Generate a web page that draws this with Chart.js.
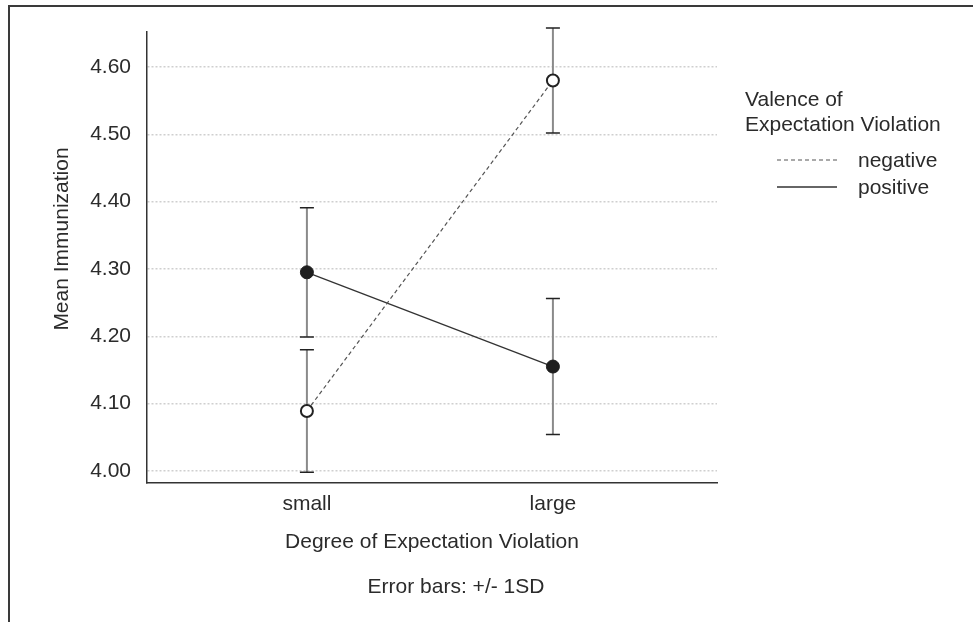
<!DOCTYPE html>
<html>
<head>
<meta charset="utf-8">
<script src="https://cdn.jsdelivr.net/npm/chart.js@4/dist/chart.umd.min.js"></script>
<style>
  html, body { margin: 0; padding: 0; background: #fff; }
  #wrap { position: relative; width: 973px; height: 622px; }
  #frame {
    position: absolute; left: 8px; top: 5px; right: 0; bottom: 0;
    border-top: 2px solid #3a3a3a; border-left: 2px solid #3a3a3a;
    pointer-events: none;
  }
</style>
</head>
<body>
<div id="wrap">
  <div id="frame"></div>
  <canvas id="interactionChart"></canvas>
</div>
<script>
const categories = ['small', 'large'];
const seriesLabels = ['negative', 'positive'];
const negativeMeans = [4.089, 4.580];
const negativeSD = [0.091, 0.078];
const positiveMeans = [4.295, 4.155];
const positiveSD = [0.096, 0.101];
const yTicks = [4.00, 4.10, 4.20, 4.30, 4.40, 4.50, 4.60];

const FONT = "'Liberation Sans', Arial, sans-serif";
const TEXT = '#2b2b2b';

function toPoints(means) {
    return means.map((m, i) => ({ x: i + 1, y: m }));
}

// error bars: grey stem, dark caps, drawn under the markers
const errorBars = {
    id: 'errorBars',
    beforeDatasetsDraw(chart) {
        const { ctx, scales: { x, y } } = chart;
        chart.data.datasets.forEach(ds => {
            ds.data.forEach((pt, i) => {
                const px = x.getPixelForValue(pt.x);
                const top = y.getPixelForValue(pt.y + ds.sd[i]);
                const bot = y.getPixelForValue(pt.y - ds.sd[i]);
                ctx.save();
                ctx.strokeStyle = '#8a8a8a';
                ctx.lineWidth = 2;
                ctx.beginPath();
                ctx.moveTo(px, top);
                ctx.lineTo(px, bot);
                ctx.stroke();
                ctx.strokeStyle = '#222';
                ctx.lineWidth = 1.5;
                ctx.beginPath();
                ctx.moveTo(px - 7, top); ctx.lineTo(px + 7, top);
                ctx.moveTo(px - 7, bot); ctx.lineTo(px + 7, bot);
                ctx.stroke();
                ctx.restore();
            });
        });
    }
};

// legend block on the right, y title (sits a bit above centre) and footnote
const sideNotes = {
    id: 'sideNotes',
    afterDraw(chart) {
        const ctx = chart.ctx;
        ctx.save();
        ctx.font = '21px ' + FONT;
        ctx.fillStyle = TEXT;
        ctx.textBaseline = 'middle';
        ctx.textAlign = 'left';
        ctx.fillText('Valence of', 745, 100);
        ctx.fillText('Expectation Violation', 745, 125);

        const rows = [161, 188];
        chart.data.datasets.forEach((ds, i) => {
            ctx.strokeStyle = ds.borderColor;
            ctx.lineWidth = ds.borderWidth;
            ctx.setLineDash(ds.borderDash || []);
            ctx.beginPath();
            ctx.moveTo(777, rows[i] - 1);
            ctx.lineTo(837, rows[i] - 1);
            ctx.stroke();
            ctx.setLineDash([]);
            ctx.fillText(ds.label, 858, rows[i]);
        });

        ctx.textAlign = 'center';
        ctx.fillText('Error bars: +/- 1SD', 456, 587);

        ctx.translate(62, 239);
        ctx.rotate(-Math.PI / 2);
        ctx.fillText('Mean Immunization', 0, 0);
        ctx.restore();
    }
};

const ctx = document.getElementById('interactionChart');

new Chart(ctx, {
    type: 'line',
    data: {
        datasets: [
            {
                label: seriesLabels[0],
                data: toPoints(negativeMeans),
                sd: negativeSD,
                borderColor: '#555',
                borderWidth: 1.2,
                borderDash: [4, 3],
                pointRadius: 6,
                pointBorderWidth: 2,
                pointBackgroundColor: '#fff',
                pointBorderColor: '#222'
            },
            {
                label: seriesLabels[1],
                data: toPoints(positiveMeans),
                sd: positiveSD,
                borderColor: '#333',
                borderWidth: 1.3,
                pointRadius: 6.5,
                pointBorderWidth: 1,
                pointBackgroundColor: '#1e1e1e',
                pointBorderColor: '#1e1e1e'
            }
        ]
    },
    options: {
        responsive: true,
        maintainAspectRatio: false,
        animation: false,
        layout: { padding: { top: 32, right: 256, left: 0, bottom: 0 } },
        plugins: {
            legend: { display: false },
            tooltip: { enabled: false }
        },
        scales: {
            x: {
                type: 'linear',
                min: 0.35,
                max: 2.667,
                afterBuildTicks: s => { s.ticks = categories.map((c, i) => ({ value: i + 1 })); },
                afterFit: s => { s.height = 139; },
                ticks: {
                    callback: (v, i) => categories[i],
                    autoSkip: false,
                    maxRotation: 0,
                    padding: 9,
                    color: TEXT,
                    font: { family: FONT, size: 21 }
                },
                grid: { display: false, drawTicks: false },
                border: { color: '#333', width: 1.5 },
                title: {
                    display: true,
                    text: 'Degree of Expectation Violation',
                    color: TEXT,
                    font: { family: FONT, size: 21 },
                    padding: { top: 0, bottom: 67 }
                }
            },
            y: {
                min: 3.982,
                max: 4.652,
                afterBuildTicks: s => { s.ticks = yTicks.map(v => ({ value: v })); },
                afterFit: s => { s.width = 147; },
                ticks: {
                    callback: v => v.toFixed(2),
                    padding: 16,
                    color: TEXT,
                    font: { family: FONT, size: 21 }
                },
                grid: { color: '#cfcfcf', lineWidth: 1.5, drawTicks: false },
                border: { color: '#333', width: 1.5, dash: [2, 2] }
            }
        }
    },
    plugins: [errorBars, sideNotes]
});
</script>
</body>
</html>
